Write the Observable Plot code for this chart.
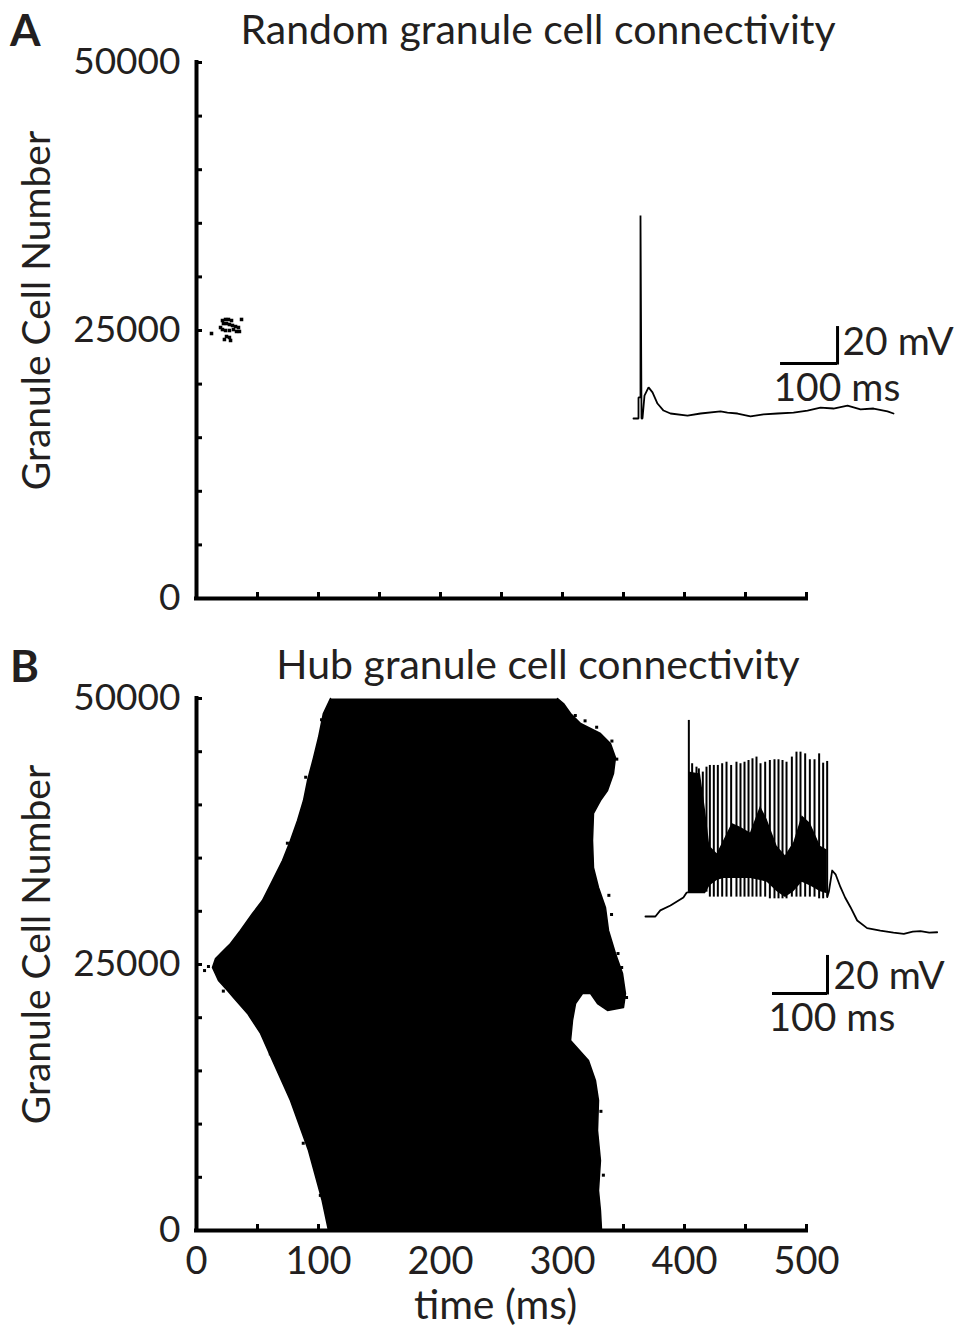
<!DOCTYPE html>
<html><head><meta charset="utf-8">
<script src="https://cdn.jsdelivr.net/npm/d3@7"></script>
<script src="https://cdn.jsdelivr.net/npm/@observablehq/plot@0.6"></script>
<style>
body{margin:0;background:#fff;}
#root{position:relative;width:955px;height:1327px;overflow:hidden;font-family:Lato,"Open Sans",sans-serif;color:#231f20;}
#root svg{overflow:visible;position:absolute;left:0;}
.lbl{position:absolute;font-weight:bold;font-size:44px;line-height:1;}
.ttl{position:absolute;left:138px;width:800px;font-size:41px;line-height:1;text-align:center;white-space:nowrap;}
</style></head>
<body><div id="root"></div>
<script>
// ---------- Data ----------
const xTicksMinor = [0,50,100,150,200,250,300,350,400,450,500];
const yTicksMinor = [0,5000,10000,15000,20000,25000,30000,35000,40000,45000,50000];
const yTickLabels = [0,25000,50000];
const xTickLabels = [0,100,200,300,400,500];

// Panel A: spikes (time ms, granule cell index)
const spikeA_t    = [12.3,21.3,23.8,26.2,28.7,22.1,24.6,27.0,29.5,32.0,34.4,36.9,19.7,21.3,23.8,27.0,30.3,32.8,35.2,24.6,27.0,22.9,27.9];
const spikeA_cell = [24720,25930,26030,26030,25930,25650,25650,25560,25470,25370,25280,26030,25280,25090,25000,25000,25090,24910,24910,24440,24350,24160,24070];

// Panel B: boundary of the active (black) region
const leftEdgeB_cell = [50000,48590,46330,44450,42290,40410,38530,36650,34770,32890,31010,29800,28200,26980,26040,25570,24720,23500,22560,21900,20400,18520,15980,12220,7520,2820,0];
const leftEdgeB_t    = [109.8,104,100,96,91,87.7,82.8,77,70.5,62.3,54,45.9,36,27.9,19.7,15.6,13.1,18,25.4,30.3,41.8,52.5,62.3,77,91.8,103,108.2];
const rightEdgeB_cell = [50000,49530,48590,47650,46710,45770,44450,42950,41350,40410,39190,36650,34110,32240,30360,28200,26030,24150,22270,20960,20680,21330,22270,22270,21330,19740,17860,15980,14100,12220,9400,6580,3760,1880,0];
const rightEdgeB_t    = [295.9,300.8,306.6,314.8,331.1,339.3,343.4,341.8,336.9,331.1,325.4,324.6,325.4,329.5,335.2,337.7,343.4,349.2,351.6,350,336.9,328.7,323,316.4,310.7,308.2,306.6,321.3,327,329.5,328.7,331.1,329.5,331.1,332];
// stray spikes near the edges of panel B
const strayB_t    = [310.5,318.5,328.0,340.5,344.5,335.5,338.0,340.2,345.5,348.5,352.5,9.8,6.6,22.0,102.5,89.5,74.5,36.0,60.5,87.5,101.5,331.5,333.5];
const strayB_cell = [48400,47900,47300,46000,44300,42010,31500,29700,26030,24720,21900,24810,24430,22500,48000,42600,36400,27600,16600,8200,3300,11200,5200];

// Inset A: membrane potential (ms, mV)
const traceA_t = [14,22.8,22.8,26.3,26.3,28.1,29.8,33.3,40.4,47.4,56.1,66.7,78.9,108.8,131.6,166.7,178.9,196.5,219.3,242.1,266.7,294.7,319.3,342.1,364.9,389.5,412.3,435.1,459.6,470.2];
const traceA_v = [-70,-70,-58.6,-58.6,39.7,-70,-70,-57.6,-53.2,-55.9,-61.9,-65.7,-67.3,-68.4,-67.3,-66.2,-66.8,-67.3,-68.9,-67.8,-67.3,-66.8,-65.7,-64.1,-64.6,-63.0,-65.1,-64.6,-66.2,-67.3];

// Inset B: membrane potential (ms, mV)
const preB_t  = [9,27,36,54.5,78,84,87.9];
const preB_v  = [-70,-70,-66.8,-64.2,-60,-57.4,-57.2];
const postB_t = [339.4,342.4,348.5,355,363.6,372,381.8,394,412,436,460,478.8,495,509,525,539.4];
const postB_v = [-59.8,-57,-45.8,-48,-54.6,-60,-65.1,-72.1,-76.1,-77.4,-78.5,-79.1,-78,-77.7,-78.5,-78.3];
const spikeB_t    = [87.9,93.9,101.8,106.1,113.3,120,126.1,133.3,140.6,148.5,156.4,164.8,174.5,181.8,189.1,196.4,203.6,210.9,218.2,226.7,235.2,243.6,250.9,258.2,265.5,275.2,283.6,290.9,299.4,307.9,316.4,324.8,332.1,339.4];
const spikeB_peak = [33.2,10.4,8.6,7.7,6.0,8.6,9.5,9.5,9.5,10.4,11.2,9.5,11.2,10.4,11.2,12.1,13.0,13.9,10.4,11.2,12.1,12.5,12.5,12.1,11.2,13.9,16.5,16.5,15.6,12.5,12.5,15.6,10.7,11.6];
const spikeB_trough = [-57.2,-57.2,-57.2,-57.2,-57.2,-57.2,-59.8,-59.8,-59.8,-59.8,-59.8,-59.8,-59.8,-59.8,-59.8,-59.8,-59.8,-59.8,-59.8,-59.8,-60.7,-60.7,-60.7,-60.7,-60.7,-59.8,-59.8,-59.8,-59.8,-59.8,-59.8,-60.7,-60.7,-59.8];
const bandB_t  = [87.9,109.1,118.2,126.1,139.4,151.5,166.7,181.8,200,218.2,230.3,248.5,263.6,278.8,293.9,309.1,327.3,339.4];
const bandB_hi = [6,5,-14,-33,-37,-30,-21,-23,-26,-12,-19,-33,-38,-31,-17,-21,-33,-35];
const bandB_lo = [-58,-58,-58,-54,-51,-50,-50,-50,-50,-51,-52,-57,-60,-57,-52,-54,-57,-58];

// ---------- Build tables ----------
const zip2 = (a, b, ka, kb) => a.map((v, i) => ({[ka]: v, [kb]: b[i]}));
const spikesA = zip2(spikeA_t, spikeA_cell, "t", "cell");
const polygonB = zip2(leftEdgeB_t, leftEdgeB_cell, "t", "cell")
  .concat(zip2(rightEdgeB_t, rightEdgeB_cell, "t", "cell").reverse());
const strayB = zip2(strayB_t, strayB_cell, "t", "cell");
const traceA = zip2(traceA_t, traceA_v, "t", "v");
const preB = zip2(preB_t, preB_v, "t", "v");
const postB = zip2(postB_t, postB_v, "t", "v");
const spikesB = spikeB_t.map((t, i) => ({t, peak: spikeB_peak[i], trough: spikeB_trough[i]}));
const bandB = bandB_t.map((t, i) => ({t, hi: bandB_hi[i], lo: bandB_lo[i]}));

const FONT = "Lato, 'Open Sans', sans-serif";
const INK = "#231f20";
const baseStyle = {fontFamily: FONT, fontSize: "37px", color: INK, background: "transparent", overflow: "visible"};

function axesMarks(showXLabels) {
  const m = [
    Plot.axisY(yTicksMinor, {tickSize: -6, strokeWidth: 3, stroke: "black", tickFormat: () => "", label: null}),
    Plot.axisX(xTicksMinor, {tickSize: -6, strokeWidth: 3, stroke: "black", tickFormat: () => "", label: null}),
    Plot.axisY(yTickLabels, {tickSize: 0, tickPadding: 16, tickFormat: "d", label: null, fill: INK}),
    Plot.ruleX([0], {y1: 0, y2: 50000, strokeWidth: 4, stroke: "black", strokeLinecap: "square"}),
    Plot.ruleY([0], {x1: 0, x2: 500, strokeWidth: 4, stroke: "black", strokeLinecap: "square"}),
    Plot.text(["Granule Cell Number"], {frameAnchor: "left", textAnchor: "middle", lineAnchor: "middle", rotate: -90, dx: -159, dy: -20, fill: INK, fontSize: 39})
  ];
  if (showXLabels) {
    m.push(Plot.axisX(xTickLabels, {tickSize: 0, tickPadding: 17, tickFormat: "d", label: null, fill: INK, fontSize: 38}));
    m.push(Plot.text(["time (ms)"], {frameAnchor: "bottom", textAnchor: "middle", lineAnchor: "middle", dx: -6, dy: 75, fill: INK, fontSize: 41}));
  }
  return m;
}

const root = document.getElementById("root");

// Panel A raster
const plotA = Plot.plot({
  width: 955, height: 620, marginLeft: 196, marginRight: 149, marginTop: 62, marginBottom: 22,
  x: {domain: [0, 500], label: null}, y: {domain: [0, 50000], label: null},
  style: baseStyle,
  marks: [
    Plot.dot(spikesA, {x: "t", y: "cell", symbol: "square", r: 2, fill: "black", stroke: null}),
    ...axesMarks(false)
  ]
});
plotA.style.top = "0px";
root.appendChild(plotA);

// Panel B raster
const plotB = Plot.plot({
  width: 955, height: 691, marginLeft: 196, marginRight: 149, marginTop: 62, marginBottom: 97,
  x: {domain: [0, 500], label: null}, y: {domain: [0, 50000], label: null},
  style: baseStyle,
  marks: [
    Plot.line(polygonB, {x: "t", y: "cell", fill: "black", stroke: "black", strokeWidth: 1.5, curve: "linear"}),
    Plot.dot(strayB, {x: "t", y: "cell", symbol: "square", r: 1.7, fill: "black", stroke: null}),
    ...axesMarks(true)
  ]
});
plotB.style.top = "636px";
root.appendChild(plotB);

// Inset A: voltage trace + scale bar
const insetA = Plot.plot({
  width: 955, height: 250, marginLeft: 625, marginRight: 45, marginTop: 6, marginBottom: 3.5,
  x: {domain: [0, 500], label: null, axis: null}, y: {domain: [-80, 50], label: null, axis: null},
  style: {...baseStyle, fontSize: "39px"},
  marks: [
    Plot.line(traceA, {x: "t", y: "v", stroke: "black", strokeWidth: 1.8, strokeLinejoin: "miter"}),
    Plot.ruleY([-40.3], {x1: 272, x2: 372, stroke: "black", strokeWidth: 3}),
    Plot.ruleX([372], {y1: -41.1, y2: -20.3, stroke: "black", strokeWidth: 3}),
    Plot.text(["20 mV"], {x: 380.7, y: -28.9, textAnchor: "start", fill: INK}),
    Plot.text(["100 ms"], {x: 259.6, y: -53.8, textAnchor: "start", fill: INK})
  ]
});
insetA.style.top = "190px";
root.appendChild(insetA);

// Inset B: voltage trace + scale bar
const insetB = Plot.plot({
  width: 955, height: 310, marginLeft: 640, marginRight: 7, marginTop: 7, marginBottom: 8.5,
  x: {domain: [0, 560], label: null, axis: null}, y: {domain: [-115, 40], label: null, axis: null},
  style: {...baseStyle, fontSize: "39px"},
  marks: [
    Plot.areaY(bandB, {x: "t", y1: "lo", y2: "hi", fill: "black"}),
    Plot.ruleX(spikesB, {x: "t", y1: "trough", y2: "peak", stroke: "black", strokeWidth: 2}),
    Plot.line(preB, {x: "t", y: "v", stroke: "black", strokeWidth: 1.8}),
    Plot.line(postB, {x: "t", y: "v", stroke: "black", strokeWidth: 1.8}),
    Plot.ruleY([-110.5], {x1: 240, x2: 340, stroke: "black", strokeWidth: 3}),
    Plot.ruleX([340], {y1: -111.3, y2: -90.5, stroke: "black", strokeWidth: 3}),
    Plot.text(["20 mV"], {x: 351, y: -101.6, textAnchor: "start", fill: INK}),
    Plot.text(["100 ms"], {x: 232.7, y: -123.7, textAnchor: "start", fill: INK})
  ]
});
insetB.style.top = "700px";
root.appendChild(insetB);

// Titles and panel letters
function addDiv(cls, text, top, left) {
  const d = document.createElement("div");
  d.className = cls; d.textContent = text; d.style.top = top + "px";
  if (left !== undefined) d.style.left = left + "px";
  root.appendChild(d);
}
addDiv("lbl", "A", 7, 10);
addDiv("lbl", "B", 643, 10);
addDiv("ttl", "Random granule cell connectivity", 8);
addDiv("ttl", "Hub granule cell connectivity", 643);
</script></body></html>
